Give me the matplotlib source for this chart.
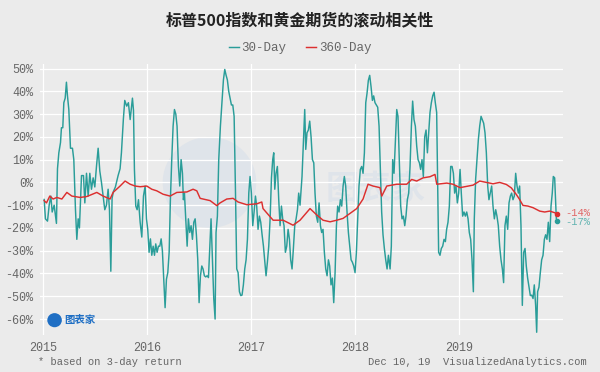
import numpy as np
import matplotlib.pyplot as plt
from matplotlib.patches import Ellipse

plt.rcParams['font.family'] = ['Noto Sans CJK SC', 'DejaVu Sans']

# decimal years since 2015-01-01 and rolling correlation (%)
yr30 = [0.010, 0.022, 0.042, 0.058, 0.074, 0.087, 0.106, 0.128, 0.138, 0.151,
        0.167, 0.176, 0.189, 0.199, 0.212, 0.224, 0.234, 0.247, 0.263, 0.282,
        0.295, 0.311, 0.324, 0.337, 0.349, 0.369, 0.388, 0.401, 0.417, 0.433,
        0.449, 0.465, 0.481, 0.497, 0.513, 0.529, 0.545, 0.561, 0.580, 0.593,
        0.609, 0.625, 0.638, 0.651, 0.663, 0.676, 0.695, 0.721, 0.740, 0.753,
        0.772, 0.785, 0.804, 0.820, 0.837, 0.846, 0.859, 0.869, 0.878, 0.891,
        0.904, 0.917, 0.933, 0.949, 0.965, 0.981, 0.994, 1.006, 1.019, 1.032,
        1.045, 1.058, 1.071, 1.083, 1.096, 1.109, 1.122, 1.135, 1.147, 1.160,
        1.173, 1.186, 1.199, 1.212, 1.224, 1.237, 1.250, 1.263, 1.276, 1.288,
        1.301, 1.314, 1.327, 1.340, 1.349, 1.359, 1.372, 1.385, 1.397, 1.410,
        1.423, 1.436, 1.449, 1.462, 1.474, 1.487, 1.500, 1.513, 1.526, 1.538,
        1.551, 1.564, 1.577, 1.590, 1.603, 1.615, 1.628, 1.641, 1.654, 1.663,
        1.676, 1.689, 1.705, 1.721, 1.734, 1.747, 1.760, 1.772, 1.785, 1.798,
        1.811, 1.824, 1.837, 1.849, 1.862, 1.875, 1.888, 1.901, 1.913, 1.926,
        1.939, 1.952, 1.965, 1.978, 1.990, 2.003, 2.016, 2.029, 2.042, 2.054,
        2.067, 2.080, 2.093, 2.106, 2.119, 2.131, 2.144, 2.157, 2.170, 2.183,
        2.196, 2.208, 2.218, 2.228, 2.240, 2.253, 2.266, 2.279, 2.292, 2.304,
        2.317, 2.330, 2.343, 2.356, 2.369, 2.381, 2.394, 2.407, 2.420, 2.433,
        2.446, 2.458, 2.471, 2.490, 2.503, 2.516, 2.526, 2.538, 2.551, 2.564,
        2.577, 2.590, 2.603, 2.615, 2.628, 2.641, 2.654, 2.667, 2.679, 2.692,
        2.705, 2.718, 2.731, 2.744, 2.756, 2.769, 2.782, 2.795, 2.808, 2.821,
        2.833, 2.846, 2.859, 2.872, 2.885, 2.897, 2.910, 2.923, 2.936, 2.949,
        2.962, 2.974, 2.987, 3.000, 3.013, 3.026, 3.038, 3.051, 3.064, 3.077,
        3.090, 3.103, 3.115, 3.128, 3.141, 3.154, 3.167, 3.179, 3.192, 3.205,
        3.218, 3.231, 3.244, 3.256, 3.269, 3.282, 3.295, 3.308, 3.321, 3.337,
        3.349, 3.362, 3.375, 3.388, 3.401, 3.413, 3.426, 3.439, 3.452, 3.465,
        3.478, 3.490, 3.503, 3.516, 3.529, 3.542, 3.554, 3.567, 3.580, 3.593,
        3.606, 3.619, 3.631, 3.644, 3.657, 3.670, 3.683, 3.696, 3.708, 3.721,
        3.734, 3.747, 3.760, 3.772, 3.785, 3.795, 3.804, 3.817, 3.830, 3.843,
        3.856, 3.869, 3.881, 3.894, 3.907, 3.920, 3.933, 3.946, 3.958, 3.971,
        3.984, 3.997, 4.010, 4.022, 4.035, 4.048, 4.061, 4.074, 4.087, 4.099,
        4.112, 4.125, 4.138, 4.147, 4.160, 4.173, 4.186, 4.199, 4.212, 4.224,
        4.237, 4.250, 4.263, 4.276, 4.288, 4.301, 4.314, 4.327, 4.340, 4.353,
        4.365, 4.378, 4.391, 4.404, 4.417, 4.429, 4.442, 4.455, 4.468, 4.481,
        4.494, 4.506, 4.519, 4.532, 4.545, 4.558, 4.571, 4.583, 4.596, 4.609,
        4.622, 4.635, 4.647, 4.660, 4.673, 4.686, 4.699, 4.712, 4.724, 4.737,
        4.747, 4.756, 4.769, 4.782, 4.795, 4.808, 4.821, 4.833, 4.846, 4.859,
        4.872, 4.885, 4.897, 4.907, 4.920, 4.929, 4.936, 4.946]
corr30 = [-7.5, -16, -17, -10, -6, -13, -10, -18, 6, 13,
          17.5, 24, 24, 35, 37, 44, 38, 32, 15, 15,
          10, -12, -25, -16, -20, 3, 3, -9, 4, -6,
          4, -3, 2, -2, 7, 15, 5, 0, -7, -12,
          -10, -3, -12, -39, -7, -4, -2, 3, 6, 13,
          28, 36, 33.5, 35, 27.6, 31.6, 37, 31.6, 5.7, -10.4,
          -12, -7.6, -17.5, -24, -6, -1.6, -16, -20.6, -30.7, -24.8,
          -32, -28, -32, -27, -30.7, -28, -28, -24.8, -30, -42.5,
          -55, -42.5, -39.6, -30.7, -7.5, 10, 24.7, 32, 30, 24.7,
          7.2, -1.6, 10, 4, -7.6, -4.7, -16, -28, -16, -22,
          -19, -25, -17.5, -16, -23, -33.8, -52.8, -41, -36.7, -38,
          -41, -41.5, -41, -41.8, -28, -16, -34, -51, -60, -22,
          -14.8, 10, 24.7, 36, 45, 49.6, 47, 45, 40, 37,
          34, 34, 29, -1.6, -38, -39.6, -48, -49.7, -49.5, -45,
          -38, -34, -25, -4.7, 2.6, -4.7, -19, -13, -6, -10.4,
          -20.6, -14.8, -17.5, -23, -28, -34, -41, -35, -28, -16,
          2, 10, 13, -3, 4, 7, -7.6, -19, -10.4, -16,
          -19, -30.7, -28, -20.6, -25, -34, -38, -29, -19, -16,
          -12, -4.7, -10, 2.6, 17.5, 32, 14.5, 21.8, 23, 26.9,
          20, 10, 8.6, -4.7, -14.8, -17.5, -9, -19, -22, -20.6,
          -30.7, -38, -41, -34, -36.7, -45, -42, -52.8, -39.6, -19,
          -10.4, -13, -7.6, -10.4, -1.6, 2.6, -1.6, -13, -22, -28,
          -34, -35, -36.7, -39.6, -30.7, -16, -1.6, 5.7, 7, 4,
          13, 35, 39, 44.8, 47, 42, 36, 38, 35, 34,
          33, 24.7, 5.7, -13, -23, -29, -34, -38, -32, -38,
          -28, 10, 4, 17.5, 32, 29, 10, -10.4, -16, -14.8,
          -19, -14.8, -7.6, -4.7, 7, 24.7, 35.7, 27.6, 24.7, 16,
          10, 8.6, 5.7, 10, 2.6, 20, 23, 13, 21.8, 30.7,
          35, 38, 39.6, 35, 30.7, 0, -30.7, -32, -29, -28,
          -25, -26, -20.6, -17.5, -10.4, 7, 7, 4, -4.7, -1.6,
          -9, -4.7, 5.7, -4.7, -14.8, -13, -14.8, -13, -16, -22,
          -25, -34, -48, -16, 1.5, 10, 18.8, 24.7, 29, 27.6,
          26, 21.8, 13, -1.6, -7.6, -4.7, -1.6, -10.4, -16, -12,
          -14.8, -19, -28, -34, -38, -44, -19, -14.8, -20.6, -9,
          -6, -4.7, -7.6, -6, 4, -1.6, -4.7, -1.6, -19, -54,
          -30.7, -29, -36.7, -42, -46, -49.7, -49.5, -51, -45, -54,
          -65.8, -48, -46, -39.6, -34, -32, -25, -23, -25, -17.5,
          -26, -10.4, -4.7, 2.6, 2, -7.6, -16, -17]

yr360 = [0.010, 0.032, 0.064, 0.096, 0.132, 0.180, 0.228, 0.276, 0.356, 0.420,
         0.516, 0.577, 0.644, 0.673, 0.740, 0.788, 0.837, 0.885, 0.933, 0.997,
         1.045, 1.093, 1.154, 1.221, 1.286, 1.382, 1.442, 1.478, 1.510, 1.606,
         1.670, 1.702, 1.766, 1.827, 1.875, 1.959, 2.055, 2.103, 2.115, 2.212,
         2.308, 2.404, 2.471, 2.567, 2.632, 2.692, 2.760, 2.824, 2.885, 2.952,
         3.016, 3.077, 3.125, 3.173, 3.240, 3.257, 3.305, 3.401, 3.497, 3.545,
         3.593, 3.654, 3.721, 3.769, 3.786, 3.882, 3.942, 4.010, 4.135, 4.199,
         4.263, 4.327, 4.391, 4.455, 4.503, 4.551, 4.583, 4.615, 4.663, 4.712,
         4.776, 4.824, 4.872, 4.920, 4.946]
corr360 = [-8, -9, -6, -7.3, -6.6, -7.3, -4.4, -6, -6.6, -6.2,
           -4.4, -6, -7.3, -4.4, -1.6, 0.6, -0.8, -1.6, -1.9, -1.6,
           -3, -3.7, -5.2, -6, -4.4, -4.2, -3, -3.7, -7, -8,
           -10.2, -9, -7.3, -7, -8.6, -9.8, -9.4, -8.6, -11.5, -16.6,
           -16.6, -18.8, -16.6, -11.5, -14.3, -16.6, -17.3, -16.6, -15.8, -13.6,
           -11.5, -7.3, -0.8, -1.6, -2.3, -6, -1.6, -0.8, -0.8, 1.3,
           0.6, 2, 2.5, 3.5, -0.8, -0.3, -0.8, -2.3, -1.2, 0.6,
           0, -0.6, 0, -0.9, -2.4, -5.3, -7.5, -10.1, -10.4, -11.1,
           -12.6, -13, -12.6, -13.3, -14]

year_ticks = [0, 1, 2, 3, 4]
year_labels = ['2015', '2016', '2017', '2018', '2019']
pct_ticks = list(range(-60, 51, 10))

teal = '#2a9d99'
red = '#dc2f2f'
bg = '#ebebeb'
txt = '#666666'
mono = 'Liberation Mono'

fig = plt.figure(figsize=(6, 3.72), dpi=100, facecolor=bg)
ax = fig.add_axes([0.0667, 0.0995, 0.8716, 0.7285], facecolor=bg)

# faint watermark in the middle
ax.add_patch(Ellipse((1.6, 0.0), 0.9, 40, color='#dfe4ea', lw=0, zorder=0))
ax.text(3.2, -3, '图表家', fontsize=24, color='#dfe4ea', fontweight='bold',
        ha='center', va='center', zorder=0)

ax.plot(yr30, corr30, color=teal, lw=1.05, label='30-Day', zorder=3)
ax.plot(yr360, corr360, color=red, lw=1.05, label='360-Day', zorder=4)
ax.scatter([yr30[-1]], [corr30[-1]], s=9, color=teal, zorder=5)
ax.scatter([yr360[-1]], [corr360[-1]], s=9, color=red, zorder=5)
ax.text(yr360[-1] + 0.08, corr360[-1] + 0.6, f'{corr360[-1]:.0f}%', color=red,
        fontsize=7.5, family=mono, va='center', alpha=0.7)
ax.text(yr30[-1] + 0.08, corr30[-1] - 0.6, f'{corr30[-1]:.0f}%', color=teal,
        fontsize=7.5, family=mono, va='center', alpha=0.7)

ax.set_xlim(-0.03, 5.0)
ax.set_ylim(-67, 52)
ax.set_xticks(year_ticks)
ax.set_xticklabels(year_labels)
ax.set_yticks(pct_ticks)
ax.set_yticklabels([f'{p}%' for p in pct_ticks])
for lab in ax.get_xticklabels() + ax.get_yticklabels():
    lab.set_family(mono)
    lab.set_fontsize(8.5)
    lab.set_color(txt)
ax.tick_params(length=0, pad=5)
ax.grid(color='white', lw=0.9)
ax.set_axisbelow(True)
for s in ax.spines.values():
    s.set_visible(False)

# small logo bottom left
ax.add_patch(Ellipse((0.11, -60.5), 0.14, 6.2, color='#1f6fc4', lw=0, zorder=2))
ax.text(0.2, -60.5, '图表家', fontsize=7.5, color='#1f6fc4', fontweight='bold',
        va='center', zorder=2)

fig.text(0.5, 0.945, '标普500指数和黄金期货的滚动相关性', ha='center', va='center',
         fontsize=11.5, fontweight='bold', color='#222222')
leg = fig.legend(loc='center', bbox_to_anchor=(0.5, 0.871), ncol=2, frameon=False,
                 handlelength=0.8, handletextpad=0.2, columnspacing=1.6,
                 prop={'family': mono, 'size': 9})
for t in leg.get_texts():
    t.set_color(txt)

fig.text(0.063, 0.027, '* based on 3-day return', fontsize=7.5, family=mono,
         color=txt, va='center')
fig.text(0.978, 0.027, 'Dec 10, 19  VisualizedAnalytics.com', fontsize=7.5,
         family=mono, color=txt, va='center', ha='right')

fig.savefig('out.png', dpi=100, facecolor=bg)
